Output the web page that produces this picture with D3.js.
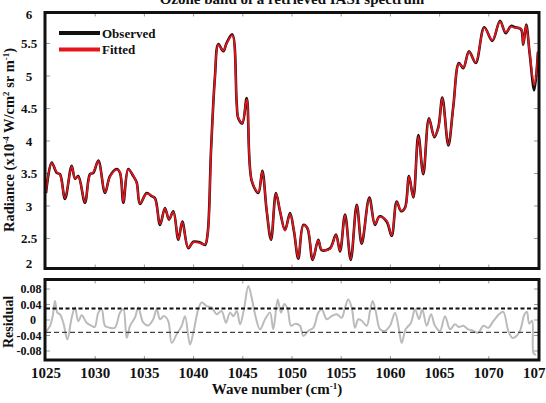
<!DOCTYPE html>
<html>
<head>
<meta charset="utf-8">
<script src="https://cdn.jsdelivr.net/npm/d3@7"></script>
<style>
  html, body { margin: 0; padding: 0; background: #fff; }
  #chart { width: 546px; height: 403px; }
  text { font-family: "Liberation Serif", "DejaVu Serif", serif; font-weight: 700; fill: #111; }
</style>
</head>
<body>
<div id="chart"></div>
<script>
// Ozone band spectrum (wave number in cm-1, radiance in 1e-4 W/cm2 sr m-1)
const waveNumbers = [1025.0, 1025.58, 1026.09, 1026.42, 1026.93, 1027.61, 1027.95, 1028.28, 1028.96, 1029.47,
  1029.81, 1030.32, 1031.0, 1031.5, 1032.19, 1032.52, 1032.86, 1033.36, 1033.87, 1034.22,
  1034.55, 1035.23, 1035.74, 1036.08, 1036.59, 1037.09, 1037.5, 1037.94, 1038.45, 1038.85,
  1039.46, 1039.97, 1040.65, 1041.16, 1041.43, 1041.77, 1042.17, 1042.51, 1043.02, 1043.36,
  1043.93, 1044.38, 1044.54, 1044.95, 1045.4, 1045.9, 1046.58, 1046.98, 1047.43, 1047.87,
  1048.37, 1048.78, 1049.29, 1049.8, 1050.2, 1050.64, 1051.15, 1051.56, 1052.1, 1052.67,
  1053.02, 1053.86, 1054.47, 1054.88, 1055.39, 1055.97, 1056.58, 1057.08, 1057.86, 1058.43,
  1058.88, 1059.62, 1060.13, 1060.64, 1061.08, 1061.48, 1061.89, 1062.33, 1062.84, 1063.34,
  1063.92, 1064.46, 1064.87, 1065.28, 1065.89, 1066.39, 1066.97, 1067.41, 1067.99, 1068.67,
  1069.54, 1070.36, 1071.14, 1071.72, 1072.26, 1072.66, 1073.27, 1073.5, 1073.8, 1074.15,
  1074.62, 1075.0];
const observed = [3.20, 3.67, 3.51, 3.49, 3.11, 3.62, 3.42, 3.46, 3.05, 3.49,
  3.51, 3.70, 3.20, 3.46, 3.57, 3.51, 3.05, 3.57, 3.46, 3.36,
  3.03, 3.20, 3.15, 3.12, 2.71, 2.97, 2.79, 2.92, 2.48, 2.76,
  2.35, 2.45, 2.44, 2.40, 2.58, 3.85, 4.99, 5.49, 5.38, 5.51,
  5.64, 4.58, 4.35, 4.27, 4.66, 3.39, 3.20, 3.54, 2.92, 2.48,
  3.20, 2.92, 2.63, 2.89, 2.61, 2.19, 2.71, 2.66, 2.17, 2.48,
  2.32, 2.35, 2.56, 2.30, 2.87, 2.17, 3.02, 2.42, 3.13, 2.71,
  2.84, 2.76, 2.54, 3.07, 2.92, 2.97, 3.46, 3.13, 4.09, 3.49,
  4.35, 4.06, 4.21, 4.67, 3.93, 4.53, 5.20, 5.12, 5.38, 5.20,
  5.75, 5.54, 5.85, 5.66, 5.77, 5.75, 5.72, 5.48, 5.79, 5.35,
  4.78, 5.37];
const fitted = [3.21, 3.66, 3.52, 3.48, 3.12, 3.61, 3.43, 3.45, 3.06, 3.48,
  3.52, 3.69, 3.21, 3.45, 3.56, 3.52, 3.06, 3.56, 3.47, 3.35,
  3.04, 3.19, 3.16, 3.11, 2.72, 2.96, 2.80, 2.91, 2.49, 2.75,
  2.36, 2.44, 2.43, 2.41, 2.57, 3.84, 4.98, 5.48, 5.39, 5.50,
  5.63, 4.57, 4.36, 4.28, 4.64, 3.40, 3.21, 3.53, 2.93, 2.49,
  3.19, 2.93, 2.62, 2.88, 2.62, 2.20, 2.70, 2.67, 2.18, 2.47,
  2.33, 2.34, 2.55, 2.31, 2.86, 2.18, 3.01, 2.43, 3.12, 2.72,
  2.83, 2.77, 2.55, 3.06, 2.93, 2.96, 3.45, 3.14, 4.07, 3.50,
  4.34, 4.07, 4.20, 4.66, 3.94, 4.52, 5.19, 5.13, 5.37, 5.21,
  5.74, 5.55, 5.84, 5.67, 5.76, 5.74, 5.73, 5.49, 5.78, 5.36,
  4.86, 5.38];

// Residual series
const resWave = [1025.0, 1025.41, 1025.68, 1025.91, 1026.15, 1026.4, 1026.76, 1027.17, 1027.61, 1027.95,
  1028.28, 1028.63, 1029.13, 1029.64, 1029.95, 1030.32, 1030.66, 1031.0, 1031.5, 1032.0,
  1032.52, 1032.86, 1033.2, 1033.54, 1034.04, 1034.38, 1034.89, 1035.4, 1035.9, 1036.25,
  1036.59, 1037.0, 1037.43, 1037.77, 1038.28, 1038.79, 1039.13, 1039.63, 1039.97, 1040.48,
  1040.82, 1041.33, 1041.84, 1042.35, 1042.85, 1043.29, 1043.7, 1044.05, 1044.38, 1044.72,
  1045.12, 1045.56, 1045.9, 1046.24, 1046.75, 1047.26, 1047.76, 1048.1, 1048.55, 1048.88,
  1049.22, 1049.56, 1049.9, 1050.3, 1050.81, 1051.15, 1051.66, 1052.17, 1052.67, 1053.02,
  1053.53, 1054.03, 1054.54, 1055.05, 1055.39, 1055.72, 1056.07, 1056.4, 1056.74, 1057.1,
  1057.59, 1057.93, 1058.2, 1058.54, 1058.94, 1059.45, 1059.96, 1060.47, 1060.87, 1061.15,
  1061.55, 1062.09, 1062.5, 1062.91, 1063.24, 1063.69, 1064.13, 1064.53, 1065.04, 1065.55,
  1066.06, 1066.57, 1066.95, 1067.41, 1067.92, 1068.43, 1068.93, 1069.44, 1069.95, 1070.46,
  1071.04, 1071.47, 1071.98, 1072.39, 1072.75, 1073.2, 1073.6, 1073.88, 1074.1, 1074.4,
  1074.55, 1074.8];
const residual = [-0.03, -0.015, 0.010, 0.049, 0.019, 0.015, -0.007, -0.050, 0.006, 0.032,
  -0.003, 0.012, -0.007, -0.015, -0.018, 0.019, 0.028, -0.015, -0.020, -0.020,
  0.019, 0.028, -0.046, -0.015, 0.006, 0.032, -0.007, -0.014, 0.002, 0.028,
  0.002, 0.010, -0.003, -0.059, -0.037, -0.015, 0.010, -0.063, -0.033, 0.028,
  0.045, 0.036, 0.032, 0.015, 0.023, -0.007, 0.019, 0.010, 0.023, -0.011,
  0.028, 0.088, 0.058, 0.015, -0.024, 0.002, 0.019, -0.024, 0.053, 0.019,
  0.041, 0.028, -0.015, -0.010, -0.015, -0.041, -0.028, -0.020, 0.019, 0.028,
  0.002, 0.010, 0.015, 0.006, 0.032, 0.053, 0.032, -0.020, 0.002, -0.002,
  -0.015, 0.023, 0.049, 0.019, -0.024, -0.028, -0.015, 0.019, -0.024, -0.059,
  -0.024, -0.007, 0.028, 0.002, 0.028, -0.015, 0.015, -0.015, -0.028, 0.010,
  -0.024, -0.011, -0.018, -0.015, -0.024, -0.028, -0.033, -0.015, -0.020, -0.003,
  0.015, 0.021, -0.028, -0.046, -0.043, -0.026, 0.013, 0.021, -0.009, -0.002,
  -0.086, -0.090];
const thresholds = [0.030, -0.032];

const xTicks = [1025, 1030, 1035, 1040, 1045, 1050, 1055, 1060, 1065, 1070, 1075];
const radTicks = [2, 2.5, 3, 3.5, 4, 4.5, 5, 5.5, 6];
const resTicks = [0.08, 0.04, 0, -0.04, -0.08];
const seriesNames = ['Observed', 'Fitted'];

const W = 546, H = 403;
const svg = d3.select('#chart').append('svg').attr('width', W).attr('height', H);

const x = d3.scaleLinear().domain([1025, 1075]).range([46, 538]);
const yTop = d3.scaleLinear().domain([2, 6]).range([271, 11]);
const yRes = d3.scaleLinear().domain([-0.08, 0.08]).range([351, 289]);

const topBox = { y0: 12.5, y1: 268.5 };
const resBox = { y0: 279.5, y1: 360 };

// clip paths
const defs = svg.append('defs');
defs.append('clipPath').attr('id', 'clipTop').append('rect')
  .attr('x', 46).attr('y', topBox.y0).attr('width', 492).attr('height', topBox.y1 - topBox.y0);
defs.append('clipPath').attr('id', 'clipRes').append('rect')
  .attr('x', 46).attr('y', resBox.y0).attr('width', 492).attr('height', resBox.y1 - resBox.y0);

// title (mostly cut off at the top)
svg.append('text').attr('x', 292).attr('y', 4).attr('text-anchor', 'middle')
  .style('font-size', '15px').text('Ozone band of a retrieved IASI spectrum');

// inward tick marks on every side
const inner = xTicks.slice(1, -1);
const tickG = svg.append('g').attr('stroke', '#999').attr('stroke-width', 1);
inner.forEach(t => {
  tickG.append('line').attr('x1', x(t)).attr('x2', x(t)).attr('y1', topBox.y0).attr('y2', topBox.y0 + 4);
  tickG.append('line').attr('x1', x(t)).attr('x2', x(t)).attr('y1', topBox.y1 - 4).attr('y2', topBox.y1);
  tickG.append('line').attr('x1', x(t)).attr('x2', x(t)).attr('y1', resBox.y0).attr('y2', resBox.y0 + 4);
  tickG.append('line').attr('x1', x(t)).attr('x2', x(t)).attr('y1', resBox.y1 - 4).attr('y2', resBox.y1);
});
radTicks.slice(1, -1).forEach(v => {
  tickG.append('line').attr('x1', 46).attr('x2', 50).attr('y1', yTop(v)).attr('y2', yTop(v));
  tickG.append('line').attr('x1', 534).attr('x2', 538).attr('y1', yTop(v)).attr('y2', yTop(v));
});
resTicks.forEach(v => {
  tickG.append('line').attr('x1', 46).attr('x2', 50).attr('y1', yRes(v)).attr('y2', yRes(v));
  tickG.append('line').attr('x1', 534).attr('x2', 538).attr('y1', yRes(v)).attr('y2', yRes(v));
});

// ---- top panel ----
const spec = waveNumbers.map((w, i) => ({ w, obs: observed[i], fit: fitted[i] }));
const curve = d3.curveCatmullRom.alpha(0.5);
const lineObs = d3.line().x(d => x(d.w)).y(d => yTop(d.obs)).curve(curve);
const lineFit = d3.line().x(d => x(d.w)).y(d => yTop(d.fit)).curve(curve);

const plotTop = svg.append('g').attr('clip-path', 'url(#clipTop)');
plotTop.append('path').datum(spec).attr('d', lineObs)
  .attr('fill', 'none').attr('stroke', '#111').attr('stroke-width', 2.6);
plotTop.append('path').datum(spec).attr('d', lineFit)
  .attr('fill', 'none').attr('stroke', '#e8141c').attr('stroke-width', 1.8);

// y tick labels top
svg.append('g').selectAll('text').data(radTicks).join('text')
  .attr('x', 29)
  .attr('y', d => yTop(d) + 4.5 + (d === 6 ? 3 : d === 2 ? -8 : 0))
  .attr('text-anchor', 'middle')
  .style('font-size', '13px')
  .text(d => d);

// legend
const legendColors = ['#111', '#e8141c'];
const leg = svg.append('g');
seriesNames.forEach((name, i) => {
  const ly = 33 + i * 16.5;
  leg.append('line').attr('x1', 59).attr('x2', 100).attr('y1', ly).attr('y2', ly)
    .attr('stroke', legendColors[i]).attr('stroke-width', 4);
  leg.append('text').attr('x', 102).attr('y', ly + 4.5).style('font-size', '13px').text(name);
});

// frame top
svg.append('rect').attr('x', 45).attr('y', topBox.y0).attr('width', 494).attr('height', topBox.y1 - topBox.y0)
  .attr('fill', 'none').attr('stroke', '#111').attr('stroke-width', 3);

// y label top
const yl = svg.append('text')
  .attr('transform', 'translate(14,140) rotate(-90)')
  .attr('text-anchor', 'middle')
  .style('font-size', '14.5px');
yl.append('tspan').text('Radiance (x10');
yl.append('tspan').attr('dy', -5).style('font-size', '9px').text('-4');
yl.append('tspan').attr('dy', 5).text(' W/cm');
yl.append('tspan').attr('dy', -5).style('font-size', '9px').text('2');
yl.append('tspan').attr('dy', 5).text(' sr m');
yl.append('tspan').attr('dy', -5).style('font-size', '9px').text('-1');
yl.append('tspan').attr('dy', 5).text(')');

// ---- residual panel ----
const resData = resWave.map((w, i) => ({ w, r: residual[i] }));
const plotRes = svg.append('g').attr('clip-path', 'url(#clipRes)');
plotRes.append('path').datum(resData)
  .attr('d', d3.line().x(d => x(d.w)).y(d => yRes(d.r)).curve(d3.curveCatmullRom.alpha(0.5)))
  .attr('fill', 'none').attr('stroke', '#bbbbbb').attr('stroke-width', 2);

plotRes.append('line').attr('x1', 46).attr('x2', 538)
  .attr('y1', yRes(thresholds[0])).attr('y2', yRes(thresholds[0]))
  .attr('stroke', '#111').attr('stroke-width', 2).attr('stroke-dasharray', '4,2.5');
plotRes.append('line').attr('x1', 46).attr('x2', 538)
  .attr('y1', yRes(thresholds[1])).attr('y2', yRes(thresholds[1]))
  .attr('stroke', '#444').attr('stroke-width', 1.3).attr('stroke-dasharray', '5,3');

svg.append('rect').attr('x', 45).attr('y', resBox.y0).attr('width', 494).attr('height', resBox.y1 - resBox.y0)
  .attr('fill', 'none').attr('stroke', '#111').attr('stroke-width', 3);

svg.append('g').selectAll('text').data(resTicks).join('text')
  .attr('x', d => d === 0 ? 36 : 41.5)
  .attr('y', d => yRes(d) + 4)
  .attr('text-anchor', 'end')
  .style('font-size', '12px')
  .text(d => d === 0 ? '0' : d3.format('.2f')(d).replace('−', '-'));

svg.append('text').attr('transform', 'translate(13,322) rotate(-90)')
  .attr('text-anchor', 'middle').style('font-size', '14px').text('Residual');

// x tick labels
svg.append('g').selectAll('text').data(xTicks).join('text')
  .attr('x', d => x(d)).attr('y', 378)
  .attr('text-anchor', 'middle')
  .style('font-size', '15px')
  .text(d => d);

// x label
const xl = svg.append('text').attr('x', 277).attr('y', 394).attr('text-anchor', 'middle')
  .style('font-size', '15px');
xl.append('tspan').text('Wave number (cm');
xl.append('tspan').attr('dy', -5).style('font-size', '9px').text('-1');
xl.append('tspan').attr('dy', 5).text(')');
</script>
</body>
</html>
